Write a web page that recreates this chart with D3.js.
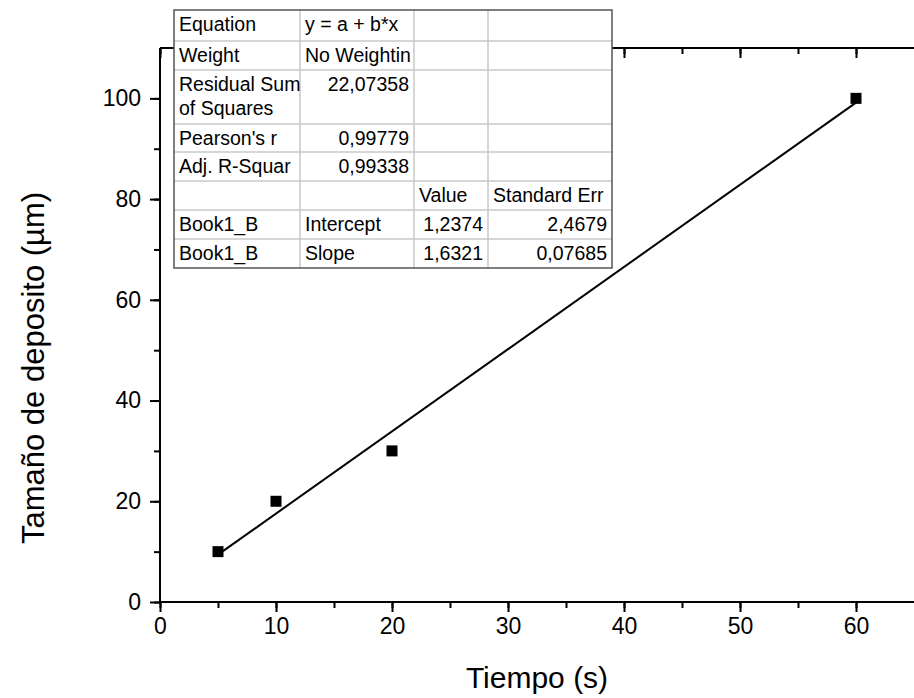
<!DOCTYPE html>
<html>
<head>
<meta charset="utf-8">
<script src="https://cdn.jsdelivr.net/npm/d3@7"></script>
<style>
  body { margin: 0; background: #fff; }
  svg { display: block; font-family: "Liberation Sans", Arial, sans-serif; }
  .axis path, .axis line { stroke: #000; stroke-width: 2; }
  .axis text { font-size: 23px; fill: #000; }
</style>
</head>
<body>
<svg class="chart"></svg>
<script>
// data
var tiempo = [5, 10, 20, 60],
  tamano = [10, 20, 30, 100];

var xTicks = [0, 10, 20, 30, 40, 50, 60],
  yTicks = [0, 20, 40, 60, 80, 100];

// linear fit from the table
var fitIntercept = 1.2374,
  fitSlope = 1.6321,
  fitRange = [5, 60];

// fit table
var tableRows = [
  ["Equation", "y = a + b*x", "", ""],
  ["Weight", "No Weightin", "", ""],
  ["Residual Sum\nof Squares", "22,07358", "", ""],
  ["Pearson's r", "0,99779", "", ""],
  ["Adj. R-Squar", "0,99338", "", ""],
  ["", "", "Value", "Standard Err"],
  ["Book1_B", "Intercept", "1,2374", "2,4679"],
  ["Book1_B", "Slope", "1,6321", "0,07685"]
];
var rightAligned = [
  [false, false, false, false],
  [false, false, false, false],
  [false, true, false, false],
  [false, true, false, false],
  [false, true, false, false],
  [false, false, false, false],
  [false, false, true, true],
  [false, false, true, true]
];

var W = 914, H = 698;
var margin = {top: 48, right: 0, bottom: 96, left: 160};

var svg = d3.select(".chart").attr("width", W).attr("height", H);

var x = d3.scaleLinear().domain([0, 65]).range([margin.left, W - margin.right]);
var y = d3.scaleLinear().domain([0, 110]).range([H - margin.bottom, margin.top]);

function minor(step, lo, hi) {
  return d3.range(lo, hi + 0.001, step);
}

// minor ticks
svg.append("g")
  .attr("class", "axis")
  .attr("transform", "translate(0," + y(0) + ")")
  .call(d3.axisBottom(x).tickValues(minor(5, 0, 60)).tickSize(6).tickFormat(""))
  .select(".domain").remove();
svg.append("g")
  .attr("class", "axis")
  .attr("transform", "translate(" + x(0) + ",0)")
  .call(d3.axisLeft(y).tickValues(minor(10, 0, 100)).tickSize(6).tickFormat(""))
  .select(".domain").remove();
svg.append("g")
  .attr("class", "axis")
  .attr("transform", "translate(0," + y(110) + ")")
  .call(d3.axisBottom(x).tickValues(minor(5, 0, 60)).tickSize(6).tickFormat(""))
  .select(".domain").remove();

// major ticks
svg.append("g")
  .attr("class", "axis")
  .attr("transform", "translate(0," + y(0) + ")")
  .call(d3.axisBottom(x).tickValues(xTicks).tickSize(10).tickSizeOuter(0).tickPadding(6))
  .select(".domain").attr("d", "M" + x(0) + ",0H" + W);
svg.append("g")
  .attr("class", "axis")
  .attr("transform", "translate(" + x(0) + ",0)")
  .call(d3.axisLeft(y).tickValues(yTicks).tickSize(10).tickSizeOuter(0).tickPadding(9))
  .select(".domain").attr("d", "M0," + y(0) + "V" + y(110));
svg.append("g")
  .attr("class", "axis")
  .attr("transform", "translate(0," + y(110) + ")")
  .call(d3.axisBottom(x).tickValues(xTicks).tickSize(10).tickFormat(""))
  .select(".domain").attr("d", "M" + x(0) + ",0H" + W);

// fit line
svg.append("line")
  .attr("x1", x(fitRange[0]))
  .attr("y1", y(fitIntercept + fitSlope * fitRange[0]))
  .attr("x2", x(fitRange[1]))
  .attr("y2", y(fitIntercept + fitSlope * fitRange[1]))
  .attr("stroke", "#000")
  .attr("stroke-width", 2);

// points
var sq = 11;
svg.selectAll(".pt")
  .data(tiempo)
  .enter().append("rect")
  .attr("class", "pt")
  .attr("x", function(d) { return x(d) - sq / 2; })
  .attr("y", function(d, i) { return y(tamano[i]) - sq / 2; })
  .attr("width", sq)
  .attr("height", sq)
  .attr("fill", "#000");

// axis titles
svg.append("text")
  .attr("x", (x(0) + W) / 2)
  .attr("y", 688)
  .attr("text-anchor", "middle")
  .style("font-size", "30px")
  .text("Tiempo (s)");
svg.append("text")
  .attr("transform", "translate(44,368) rotate(-90)")
  .attr("text-anchor", "middle")
  .style("font-size", "31px")
  .text("Tamaño de deposito (µm)");

// table
var colX = [174, 300, 414, 488, 612],
  rowH = [31, 29, 54, 28, 29, 29, 29, 29],
  tableTop = 10;
var rowY = [tableTop];
rowH.forEach(function(h) { rowY.push(rowY[rowY.length - 1] + h); });

var tbl = svg.append("g").attr("class", "fit-table");
tbl.append("rect")
  .attr("x", colX[0]).attr("y", rowY[0])
  .attr("width", colX[4] - colX[0]).attr("height", rowY[rowY.length - 1] - rowY[0])
  .attr("fill", "#fff");
tbl.selectAll(".hl")
  .data(rowY.slice(1, -1))
  .enter().append("line")
  .attr("x1", colX[0]).attr("x2", colX[4])
  .attr("y1", function(d) { return d; }).attr("y2", function(d) { return d; })
  .attr("stroke", "#c8c8c8").attr("stroke-width", 1.5);
tbl.selectAll(".vl")
  .data(colX.slice(1, -1))
  .enter().append("line")
  .attr("x1", function(d) { return d; }).attr("x2", function(d) { return d; })
  .attr("y1", rowY[0]).attr("y2", rowY[rowY.length - 1])
  .attr("stroke", "#c8c8c8").attr("stroke-width", 1.5);
tbl.append("rect")
  .attr("x", colX[0]).attr("y", rowY[0])
  .attr("width", colX[4] - colX[0]).attr("height", rowY[rowY.length - 1] - rowY[0])
  .attr("fill", "none").attr("stroke", "#555").attr("stroke-width", 1.5);

tableRows.forEach(function(row, r) {
  row.forEach(function(cell, c) {
    if (!cell) return;
    var right = rightAligned[r][c];
    var t = tbl.append("text")
      .attr("x", right ? colX[c + 1] - 5 : colX[c] + 5)
      .attr("y", rowY[r] + 21)
      .attr("text-anchor", right ? "end" : "start")
      .style("font-size", "19.5px")
      .attr("fill", "#000");
    cell.split("\n").forEach(function(line, k) {
      t.append("tspan")
        .attr("x", right ? colX[c + 1] - 5 : colX[c] + 5)
        .attr("dy", k ? 24 : 0)
        .text(line);
    });
  });
});
</script>
</body>
</html>
